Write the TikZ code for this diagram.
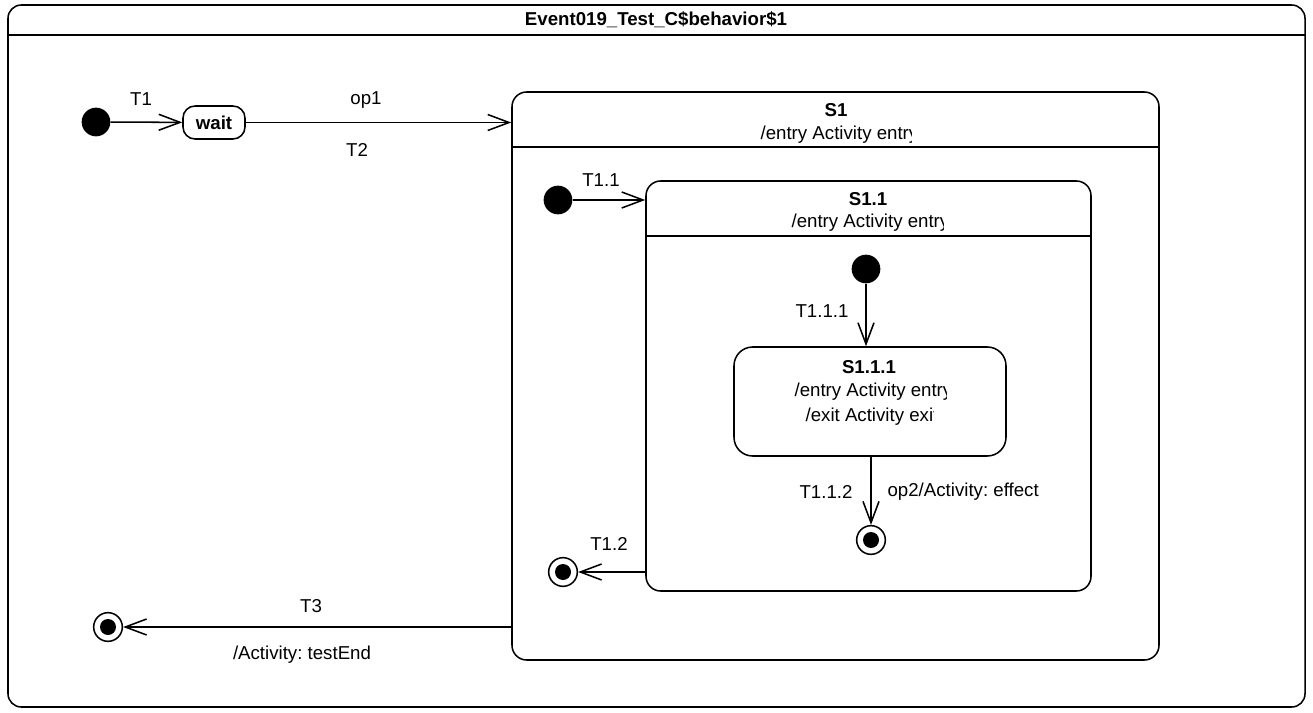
\documentclass[tikz,border=0pt]{standalone}
\usepackage{fontspec}
\setmainfont{Liberation Sans}
\usepackage{tikz}
\usetikzlibrary{arrows.meta, positioning, fit}
\frenchspacing
\tikzset{
  statebox/.style  = {draw, line width=1.15pt, rounded corners=11pt, inner sep=0pt},
  initdot/.style   = {circle, fill=black, minimum size=21.5pt, inner sep=0pt},
  finaldot/.style  = {circle, draw, line width=1.15pt, fill=white, minimum size=21.5pt,
                      inner sep=0pt,
                      path picture={\fill[black] (path picture bounding box.center) circle (6pt);}},
}

\begin{document}
\begin{tikzpicture}[
            x=0.75pt, y=-0.75pt,
            every node/.style={font=\fontsize{14}{17}\selectfont},
            trans/.style ={-{Straight Barb[length=16pt, width=12pt]}, line width=1.15pt},
            sepline/.style={line width=1.15pt},
            lbl/.style   ={inner sep=1pt},
            ttl/.style   ={font=\fontsize{14}{17}\selectfont\bfseries, inner sep=1pt}
        ]
        \useasboundingbox (0,0) rectangle (1313,713);

        %% --- Frame --------------------------------------------------------
        \node[statebox, rounded corners=10pt, fit={(8,5) (1305,707)}] (frame) {};
        \node[ttl] (frametitle) at (656,20) {Event019\_Test\_C\$behavior\$1};
        \draw[sepline] (frame.west |- 0,35) -- (frame.east |- 0,35);

        %% --- Top level ----------------------------------------------------
        \node[initdot] (init0) at (96,122) {};
        \node[statebox, rounded corners=9pt, minimum width=46.5pt, minimum height=24.75pt,
                font=\fontsize{14}{17}\selectfont\bfseries] (wait) at (214,122.5) {wait};
        \draw[trans] (init0) -- (wait);
        \node[lbl] (lt1) at (141,99) {T1};

        %% --- S1 -----------------------------------------------------------
        \node[statebox, fit={(512,92) (1159,660)}] (s1) {};
        \node[ttl] (s1name) at (836,110) {S1};
        \begin{scope}
            \clip (758,120) rectangle (911,150);
            \node[lbl, anchor=west] (s1entry) at (759,135) {/entry Activity entry};
        \end{scope}
        \draw[sepline] (s1.west |- 0,147) -- (s1.east |- 0,147);

        \draw[trans] (wait) -- (wait -| s1.west);
        \node[lbl] (lop1) at (366,100) {op1};
        \node[lbl] (lt2) at (357,150) {T2};

        %% --- S1.1 ---------------------------------------------------------
        \node[statebox, fit={(646,181) (1091,591)}] (s11) {};
        \node[ttl] (s11name) at (868,199) {S1.1};
        \begin{scope}
            \clip (789,210) rectangle (943,236);
            \node[lbl, anchor=west] (s11entry) at (790,223) {/entry Activity entry};
        \end{scope}
        \draw[sepline] (s11.west |- 0,236) -- (s11.east |- 0,236);

        \node[initdot] (init1) at (558,200) {};
        \draw[trans] (init1) -- (init1 -| s11.west);
        \node[lbl] (lt11) at (601,180) {T1.1};

        %% --- S1.1.1 -------------------------------------------------------
        \node[statebox, rounded corners=14pt, fit={(734,347) (1006,456)}] (s111) {};
        \node[ttl] (s111name) at (869,367) {S1.1.1};
        \begin{scope}
            \clip (792,380) rectangle (946,404);
            \node[lbl, anchor=west] (s111entry) at (793,392) {/entry Activity entry};
        \end{scope}
        \begin{scope}
            \clip (800,405) rectangle (933,430);
            \node[lbl, anchor=west] (s111exit) at (804,417) {/exit Activity exit};
        \end{scope}

        \node[initdot] (init2) at (866,269) {};
        \draw[trans] (init2) -- (init2 |- s111.north);
        \node[lbl] (lt111) at (822,311) {T1.1.1};

        \node[finaldot] (fin0) at (871,540) {};
        \draw[trans] (s111.south -| fin0) -- (fin0);
        \node[lbl] (lt112) at (826,492) {T1.1.2};
        \node[lbl, anchor=west] (lop2) at (886,492) {op2/Activity: effect};

        %% --- Exits --------------------------------------------------------
        \node[finaldot] (fin1) at (563,572) {};
        \draw[trans] (s11.west |- fin1) -- (fin1);
        \node[lbl] (lt12) at (609,544) {T1.2};

        \node[finaldot] (fin2) at (108,627) {};
        \draw[trans] (s1.west |- fin2) -- (fin2);
        \node[lbl] (lt3) at (311,606) {T3};
        \node[lbl] (ltestend) at (302,655) {/Activity: testEnd};

    \end{tikzpicture}
\end{document}
